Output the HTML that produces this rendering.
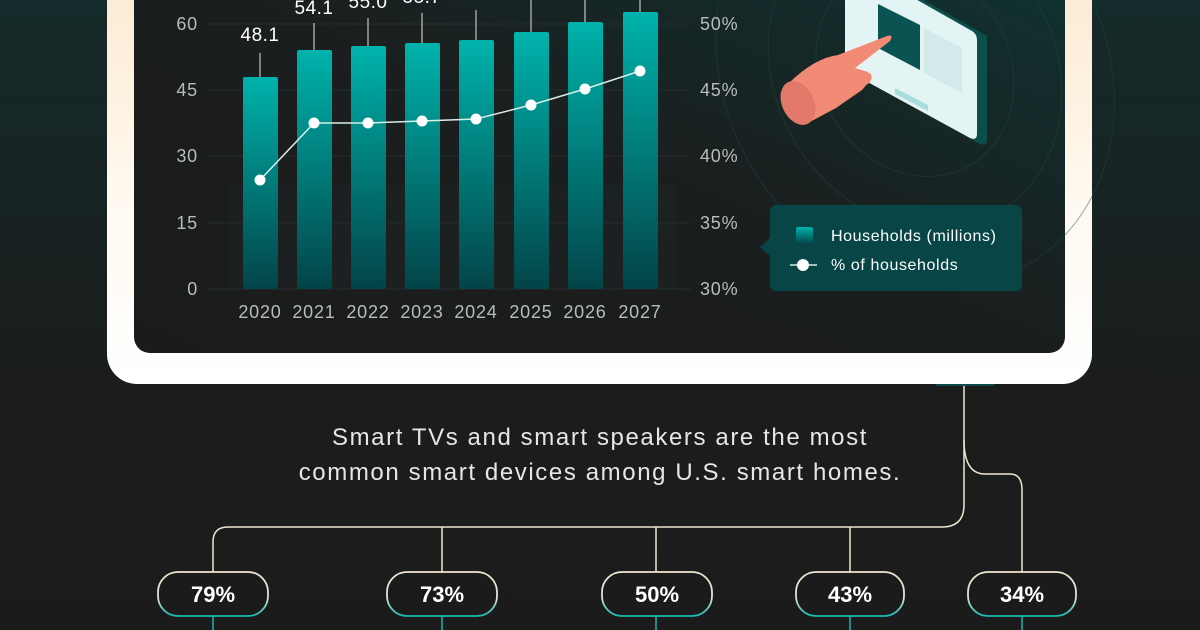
<!DOCTYPE html>
<html><head><meta charset="utf-8"><style>
html,body{margin:0;padding:0;width:1200px;height:630px;overflow:hidden;background:#1b1b1b}
text{font-family:"Liberation Sans",sans-serif}
</style></head><body>
<svg width="1200" height="630" viewBox="0 0 1200 630" xmlns="http://www.w3.org/2000/svg">
<defs>
<linearGradient id="bg" x1="0" y1="0" x2="0" y2="1"><stop offset="0" stop-color="#152a2a"/><stop offset="0.6" stop-color="#1b1d1d"/><stop offset="1" stop-color="#1b1b1b"/></linearGradient>
<linearGradient id="frame" x1="0" y1="0" x2="0" y2="1"><stop offset="0" stop-color="#fbe9cf"/><stop offset="0.6" stop-color="#fffaf2"/><stop offset="1" stop-color="#ffffff"/></linearGradient>
<linearGradient id="panel" x1="0" y1="1" x2="1" y2="0"><stop offset="0" stop-color="#1b1b1b"/><stop offset="0.5" stop-color="#1b1e1e"/><stop offset="1" stop-color="#0f3231"/></linearGradient>
<linearGradient id="bar" x1="0" y1="0" x2="0" y2="1"><stop offset="0" stop-color="#00b3ac"/><stop offset="1" stop-color="#024448"/></linearGradient>
<linearGradient id="pill" x1="0" y1="0" x2="0" y2="1"><stop offset="0" stop-color="#f1e6cf"/><stop offset="0.6" stop-color="#d9e3d6"/><stop offset="1" stop-color="#19b8b0"/></linearGradient>
</defs>
<rect width="1200" height="630" fill="url(#bg)"/>
<rect x="935" y="370" width="60" height="16" rx="3" fill="#0d4a4a"/>
<rect x="107" y="-40" width="985" height="424" rx="30" fill="url(#frame)"/>
<rect x="134" y="-40" width="931" height="393" rx="16" fill="url(#panel)"/>
<g fill="none" stroke="#1e4a47" stroke-width="1" opacity="0.45">
<ellipse cx="915" cy="70" rx="95" ry="110" transform="rotate(-30 915 70)"/>
<ellipse cx="915" cy="70" rx="140" ry="165" transform="rotate(-30 915 70)"/>
<ellipse cx="915" cy="70" rx="190" ry="225" transform="rotate(-30 915 70)"/>
</g>
<g stroke="#262e2e" stroke-width="1">
<line x1="208" y1="24" x2="690" y2="24"/><line x1="208" y1="90" x2="690" y2="90"/><line x1="208" y1="156" x2="690" y2="156"/><line x1="208" y1="223" x2="690" y2="223"/><line x1="208" y1="289" x2="690" y2="289"/>
</g>
<rect x="229" y="185" width="447" height="104" fill="#1f2a2a" opacity="0.25"/>
<g font-size="18" fill="#b8bcbc" letter-spacing="0.8">
<text x="198" y="30" text-anchor="end">60</text><text x="198" y="96" text-anchor="end">45</text><text x="198" y="162" text-anchor="end">30</text><text x="198" y="229" text-anchor="end">15</text><text x="198" y="295" text-anchor="end">0</text>
<text x="700" y="30">50%</text><text x="700" y="96">45%</text><text x="700" y="162">40%</text><text x="700" y="229">35%</text><text x="700" y="295">30%</text>
<g text-anchor="middle"><text x="260" y="318">2020</text><text x="314" y="318">2021</text><text x="368" y="318">2022</text><text x="422" y="318">2023</text><text x="476" y="318">2024</text><text x="531" y="318">2025</text><text x="585" y="318">2026</text><text x="640" y="318">2027</text></g>
</g>
<g fill="url(#bar)">
<rect x="243" y="77" width="35" height="212" rx="2"/><rect x="297" y="50" width="35" height="239" rx="2"/><rect x="351" y="46" width="35" height="243" rx="2"/><rect x="405" y="43" width="35" height="246" rx="2"/><rect x="459" y="40" width="35" height="249" rx="2"/><rect x="514" y="32" width="35" height="257" rx="2"/><rect x="568" y="22" width="35" height="267" rx="2"/><rect x="623" y="12" width="35" height="277" rx="2"/>
</g>
<g stroke="#e8e3d3" stroke-width="1">
<line x1="260" y1="53" x2="260" y2="77"/><line x1="314" y1="23" x2="314" y2="50"/><line x1="368" y1="18" x2="368" y2="46"/><line x1="422" y1="13" x2="422" y2="43"/><line x1="476" y1="10" x2="476" y2="40"/><line x1="531" y1="0" x2="531" y2="32"/><line x1="585" y1="0" x2="585" y2="22"/><line x1="640" y1="0" x2="640" y2="12"/>
</g>
<g font-size="19" fill="#fff" text-anchor="middle" letter-spacing="0.5">
<text x="260" y="41">48.1</text><text x="314" y="14">54.1</text><text x="368" y="8">55.0</text><text x="422" y="3">55.7</text><text x="476" y="-1">56.4</text>
</g>
<polyline points="260,180 314,123 368,123 422,121 476,119 531,105 585,89 640,71" fill="none" stroke="#d8efe9" stroke-width="1.5"/>
<g fill="#fff"><circle cx="260" cy="180" r="5.5"/><circle cx="314" cy="123" r="5.5"/><circle cx="368" cy="123" r="5.5"/><circle cx="422" cy="121" r="5.5"/><circle cx="476" cy="119" r="5.5"/><circle cx="531" cy="105" r="5.5"/><circle cx="585" cy="89" r="5.5"/><circle cx="640" cy="71" r="5.5"/></g>
<path d="M776,205 H1016 a6,6 0 0 1 6,6 V285 a6,6 0 0 1 -6,6 H776 a6,6 0 0 1 -6,-6 V256 L760,247 L770,238 V211 a6,6 0 0 1 6,-6Z" fill="#074546"/>
<rect x="796" y="227" width="17" height="17" rx="2" fill="url(#bar)"/>
<line x1="790" y1="265" x2="817" y2="265" stroke="#d0eeea" stroke-width="1.5"/><circle cx="803" cy="265" r="6" fill="#fff"/>
<g font-size="16" fill="#fff" letter-spacing="0.6"><text x="831" y="241">Households (millions)</text><text x="831" y="270">% of households</text></g>
<!-- tablet -->
<path d="M857,-38 L987,36 V140 Q987,146 980,144 L857,74 Z" fill="#0b4f4d"/>
<path d="M845,-41 L972,31 Q977,34 977,40 V134 Q977,141 970,138 L851,73 Q845,70 845,64 Z" fill="#e4f3f3"/>
<path d="M878,4 L920,25 V70 L878,48 Z" fill="#0b5352"/>
<path d="M924,28 L962,48 V93 L924,73 Z" fill="#d3eaea"/>
<path d="M895,88 L928,105 V111 L895,94 Z" fill="#a6dedb"/>
<!-- hand -->
<path d="M790,82 Q815,58 838,55 L887,36 Q894,34 890,41 L855,68 L868,72 Q872,80 862,90 L836,108 L806,124 Z" fill="#f28b76"/>
<path d="M855,78 L870,73 Q874,78 868,84 L855,90 Z" fill="#f28b76"/>
<ellipse cx="798" cy="103" rx="16" ry="23" transform="rotate(-25 798 103)" fill="#e2796a"/>
<g fill="none" stroke="#efe6cf" stroke-width="1.5">
<path d="M964,386 V505 Q964,527 942,527 H228 Q213,527 213,542 V572"/>
<path d="M442,527 V572"/>
<path d="M656,527 V572"/><path d="M850,527 V572"/>
<path d="M964,440 Q964,474 985,474 H1010 Q1022,474 1022,490 V572"/>
</g>
<g fill="none" stroke="#19b8b0" stroke-width="1.5"><path d="M213,616V630M442,616V630M656,616V630M850,616V630M1022,616V630"/></g>
<g fill="#1b1b1b" stroke="url(#pill)" stroke-width="1.8">
<rect x="158" y="572" width="110" height="44" rx="20"/><rect x="387" y="572" width="110" height="44" rx="20"/><rect x="602" y="572" width="110" height="44" rx="20"/><rect x="796" y="572" width="108" height="44" rx="20"/><rect x="968" y="572" width="108" height="44" rx="20"/>
</g>
<g font-size="22" font-weight="bold" fill="#fff" text-anchor="middle">
<text x="213" y="602">79%</text><text x="442" y="602">73%</text><text x="657" y="602">50%</text><text x="850" y="602">43%</text><text x="1022" y="602">34%</text>
</g>
<g font-size="24" fill="#e6e6e6" text-anchor="middle" letter-spacing="1.6">
<text x="600" y="445">Smart TVs and smart speakers are the most</text>
<text x="600" y="480">common smart devices among U.S. smart homes.</text>
</g>
</svg>
</body></html>
